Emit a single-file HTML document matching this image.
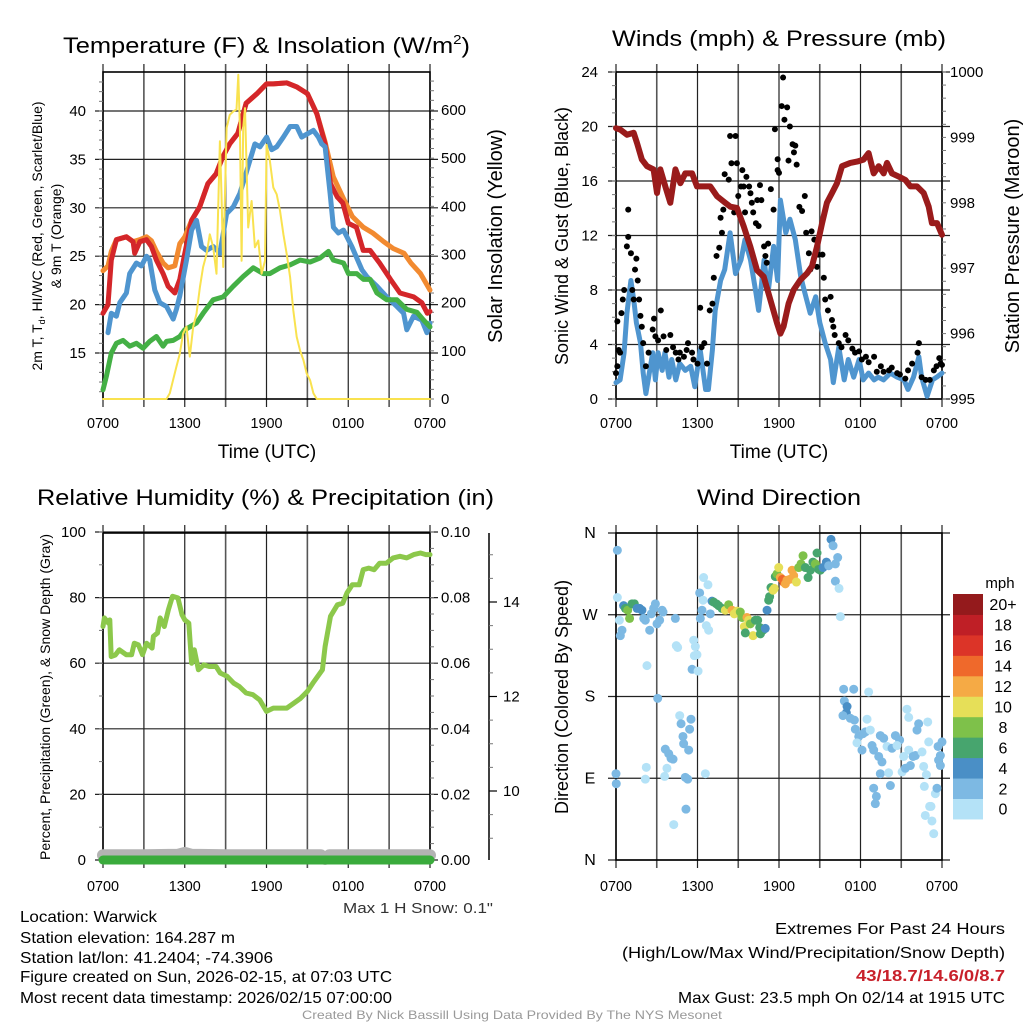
<!DOCTYPE html>
<html><head><meta charset="utf-8"><title>Mesonet Station Plot</title>
<style>
html,body{margin:0;padding:0;background:#fff;}
svg{display:block;font-family:"Liberation Sans",sans-serif;}
</style></head>
<body>
<svg id="chart" width="1024" height="1024" viewBox="0 0 1024 1024" xmlns="http://www.w3.org/2000/svg">
<rect x="0" y="0" width="1024" height="1024" fill="#fff"/>
<text x="63" y="53" font-size="22" textLength="407" lengthAdjust="spacingAndGlyphs">Temperature (F) &amp; Insolation (W/m<tspan font-size="13" dy="-9">2</tspan><tspan dy="9">)</tspan></text>
<text x="612" y="46" font-size="22" textLength="334" lengthAdjust="spacingAndGlyphs">Winds (mph) &amp; Pressure (mb)</text>
<text x="37" y="505" font-size="22" textLength="457" lengthAdjust="spacingAndGlyphs">Relative Humidity (%) &amp; Precipitation (in)</text>
<text x="697" y="505" font-size="22" textLength="164" lengthAdjust="spacingAndGlyphs">Wind Direction</text>
<text x="267" y="458" font-size="19" text-anchor="middle">Time (UTC)</text>
<text x="779" y="458" font-size="19" text-anchor="middle">Time (UTC)</text>
<text transform="translate(42,236) rotate(-90)" font-size="14" text-anchor="middle">2m T, T<tspan font-size="9" dy="3">d</tspan><tspan dy="-3">, HI/WC (Red, Green, Scarlet/Blue)</tspan></text>
<text transform="translate(61,236) rotate(-90)" font-size="14" text-anchor="middle">&amp; 9m T (Orange)</text>
<text transform="translate(502,236) rotate(-90)" font-size="20" text-anchor="middle">Solar Insolation (Yellow)</text>
<text transform="translate(568,236) rotate(-90)" font-size="18" text-anchor="middle">Sonic Wind &amp; Gust (Blue, Black)</text>
<text transform="translate(1019,236) rotate(-90)" font-size="20" text-anchor="middle">Station Pressure (Maroon)</text>
<text transform="translate(50,697) rotate(-90)" font-size="14" text-anchor="middle">Percent, Precipitation (Green), &amp; Snow Depth (Gray)</text>
<text transform="translate(568,697) rotate(-90)" font-size="18" text-anchor="middle">Direction (Colored By Speed)</text>
<text x="1000" y="588" font-size="15" text-anchor="middle">mph</text>
<g font-size="16">
<text x="20" y="922" textLength="137" lengthAdjust="spacingAndGlyphs">Location: Warwick</text>
<text x="20" y="943" textLength="215" lengthAdjust="spacingAndGlyphs">Station elevation: 164.287 m</text>
<text x="20" y="963" textLength="253" lengthAdjust="spacingAndGlyphs">Station lat/lon: 41.2404; -74.3906</text>
<text x="20" y="982" textLength="372" lengthAdjust="spacingAndGlyphs">Figure created on Sun, 2026-02-15, at 07:03 UTC</text>
<text x="20" y="1003" textLength="372" lengthAdjust="spacingAndGlyphs">Most recent data timestamp: 2026/02/15 07:00:00</text>
</g>
<text x="343" y="913" font-size="15" fill="#333" textLength="150" lengthAdjust="spacingAndGlyphs">Max 1 H Snow: 0.1"</text>
<g font-size="16">
<text x="775" y="934" textLength="230" lengthAdjust="spacingAndGlyphs">Extremes For Past 24 Hours</text>
<text x="622" y="958" textLength="383" lengthAdjust="spacingAndGlyphs">(High/Low/Max Wind/Precipitation/Snow Depth)</text>
<text x="856" y="981" font-weight="bold" fill="#c8202a" textLength="149" lengthAdjust="spacingAndGlyphs">43/18.7/14.6/0/8.7</text>
<text x="678" y="1003" textLength="327" lengthAdjust="spacingAndGlyphs">Max Gust: 23.5 mph On 02/14 at 1915 UTC</text>
</g>
<text x="302" y="1019" font-size="12" fill="#999" textLength="420" lengthAdjust="spacingAndGlyphs">Created By Nick Bassill Using Data Provided By The NYS Mesonet</text>
</svg>
<script>
const timeTicks=[0,6,12,18,24];
const timeTickLabels=['0700','1300','1900','0100','0700'];
const gridHours=[0,3,6,9,12,15,18,21,24];

const redHours=[0,0.37,0.61,0.98,1.72,2.21,2.33,2.7,3.19,3.55,3.92,4.41,4.78,5.27,5.64,6.0,6.5,7.1,7.7,8.3,8.8,9.3,9.9,10.5,11.3,12.0,12.5,13.5,14.2,15.0,15.7,16.3,16.7,17.2,17.6,18.0,18.6,19.1,19.6,20.3,21.1,21.8,22.8,23.4,23.8,24];
const redTemp=[19.1,20.0,24.6,26.7,27.0,26.5,25.3,26.5,26.7,26.0,24.6,23.2,21.9,21.2,22.6,25.3,28.7,30.1,32.5,33.5,35.3,36.6,37.7,40.8,41.8,42.8,42.8,42.9,42.5,41.8,39.7,36.6,32.5,31.1,30.5,28.4,28.0,25.6,25.6,24.3,22.6,21.2,20.8,20.2,19.1,19.3];

const orangeHours=[0,0.37,0.61,0.98,1.72,2.21,2.7,3.19,3.55,3.92,4.41,4.78,5.27,5.64,6.0,6.5,7.1,7.7,8.3,8.8,9.3,9.9,10.5,11.3,12.0,12.5,13.5,14.2,15.0,15.7,16.3,16.9,17.6,18.3,19.1,19.8,20.6,21.3,22.1,22.6,23.3,24];
const orangeTemp=[23.5,24.0,25.5,26.7,27.0,26.5,26.7,27.0,26.6,25.5,24.3,23.8,24.0,26.3,27.0,28.7,30.1,32.5,33.5,35.3,36.6,37.7,40.8,41.8,42.8,42.8,42.9,42.5,41.8,39.7,36.8,33.2,31.1,29.1,28.0,27.4,26.5,25.8,25.3,24.3,23.2,21.5];

const blueHours=[0.37,0.61,0.98,1.23,1.72,1.96,2.45,2.82,3.19,3.43,3.8,4.17,4.66,5.15,5.39,5.64,6.13,6.5,6.86,7.23,7.6,8.09,8.58,9.07,9.56,10.05,10.42,10.78,11.15,11.52,12.01,12.38,12.75,13.24,13.73,14.22,14.58,15.07,15.44,15.81,16.05,16.3,16.67,16.91,17.28,17.65,18.26,19.0,19.36,20.1,20.83,21.57,22.06,22.3,22.79,23.4,23.77,24];
const blueTemp=[17.1,19.1,18.8,20.2,21.2,23.2,24.3,24.0,25.0,24.6,21.5,20.2,19.8,18.5,19.5,20.9,24.6,27.7,28.7,26.0,25.6,26.0,25.3,29.4,30.1,31.5,33.2,34.9,36.6,36.3,37.3,36.0,36.3,37.3,38.4,38.4,37.3,37.7,38.0,37.3,36.6,36.3,31.5,28.0,27.4,27.7,26.0,23.6,22.9,21.9,20.8,19.8,19.1,17.4,18.8,18.4,17.1,18.1];

const dewHours=[0,0.25,0.61,0.98,1.47,1.96,2.45,2.94,3.43,3.92,4.41,4.66,5.15,5.64,6.0,6.37,6.86,7.35,8.09,8.82,9.56,10.29,11.03,11.76,12.25,12.99,13.73,14.46,15.2,15.93,16.54,16.91,17.65,18.01,18.63,19.12,19.61,20.1,20.83,21.57,22.3,23.04,23.53,24];
const dewTemp=[11.2,12.6,15,16,16.3,15.7,16,15.5,16.2,16.7,15.7,16.2,16.3,16.7,17.4,17.7,18.1,19.1,20.5,20.8,21.9,22.9,23.8,23.2,23.2,23.8,24.1,24.6,24.4,24.8,25.5,24.6,24.3,23.2,23.2,22.6,22.6,21.2,20.5,20.5,19.5,19.2,18.4,17.7];

const solarHours=[0,4.66,4.9,5.39,5.64,5.88,6.13,6.37,6.62,6.86,7.11,7.35,7.6,7.84,8.09,8.33,8.58,8.7,8.82,9.07,9.31,9.56,9.8,9.93,10.05,10.17,10.29,10.42,10.66,10.91,11.15,11.4,11.64,11.89,12.01,12.25,12.5,12.75,12.99,13.24,13.48,13.73,13.97,14.22,14.46,14.71,14.95,15.2,15.44,15.69,24];
const solarWm2=[0,0,12,67,94,136,150,88,150,177,232,274,301,342,315,260,535,425,274,563,590,597,601,673,563,287,563,604,356,411,315,329,260,287,528,494,439,425,391,342,301,253,184,129,101,81,53,39,12,0,0];

const p1LeftTicks=[15,20,25,30,35,40];
const p1RightTicks=[0,100,200,300,400,500,600];

const presHours=[0,0.32,0.81,1.3,1.55,1.91,2.28,2.77,3.02,3.26,3.63,4.0,4.37,4.74,5.1,5.6,5.96,6.45,6.94,7.44,8.05,8.42,8.91,9.4,9.89,10.38,10.87,11.36,11.85,12.1,12.34,12.71,13.08,13.57,14.06,14.43,14.8,15.17,15.53,15.9,16.27,16.64,17.25,17.74,18.23,18.6,18.97,19.34,19.71,19.95,20.32,20.81,21.3,21.67,22.16,22.65,23.02,23.26,23.63,24];
const presMb=[999.14,999.12,999.04,999.07,998.91,998.66,998.56,998.51,998.15,998.51,998.25,998.0,998.51,998.3,998.45,998.45,998.25,998.25,998.25,998.1,998.0,997.94,997.92,997.64,997.33,996.97,996.87,996.52,996.16,996.0,996.11,996.46,996.67,996.82,996.92,997.03,997.33,997.69,998.0,998.15,998.3,998.56,998.61,998.63,998.66,998.76,998.45,998.56,998.45,998.61,998.45,998.4,998.35,998.25,998.25,998.15,997.94,997.69,997.69,997.51];

const windHours=[0,0.3,0.6,0.8,1.1,1.3,1.5,1.8,2.0,2.2,2.4,2.7,2.9,3.1,3.4,3.6,3.9,4.1,4.4,4.7,5.1,5.5,5.8,6.2,6.6,6.8,7.1,7.3,7.7,8.0,8.4,8.8,9.2,9.5,9.9,10.3,10.5,10.9,11.2,11.6,11.9,12.1,12.5,12.8,13.2,13.6,13.9,14.3,14.7,15.0,15.4,15.8,16.0,16.4,16.8,17.1,17.5,17.9,18.2,18.6,19.0,19.3,19.7,20.2,20.7,21.2,21.5,21.9,22.3,22.5,22.9,23.3,23.6,24];
const windMph=[1.2,1.4,3.4,6.3,8.7,7.3,5.6,4.1,1.9,0.4,1.6,3.4,1.4,3.4,2.1,3.4,1.6,2.9,1.4,2.6,2.1,2.4,0.9,3.6,0.7,0.7,3.6,6.5,8.7,9.5,12.2,9.2,10.2,11.7,10.2,7.8,6.5,10.2,7.8,11.2,8.7,14.6,12.2,13.2,11.7,9.0,7.8,6.3,7.5,5.6,4.1,2.9,1.2,3.8,1.4,2.9,1.6,2.9,1.4,1.9,1.4,1.6,1.4,1.9,1.6,1.4,0.7,1.6,3.1,1.6,0.2,1.4,1.6,1.9];

const gustHours=[0,0.1,0.1,0.2,0.3,0.4,0.5,0.6,0.8,0.9,0.9,1.1,1.2,1.3,1.4,1.5,1.6,1.7,1.8,1.9,2.0,2.2,2.4,2.7,2.8,2.9,3.1,3.3,3.5,3.7,4.0,4.2,4.4,4.6,4.7,5.0,5.2,5.3,5.6,5.7,6.0,6.2,6.3,6.5,6.7,6.9,7.1,7.2,7.4,7.6,7.7,7.8,7.9,8.0,8.3,8.4,8.8,8.5,8.7,8.9,9.0,9.2,9.3,9.4,9.5,9.6,9.8,9.9,10.0,10.1,10.3,10.4,10.5,10.6,10.7,10.9,11.0,11.1,11.2,11.4,11.6,11.7,11.9,11.9,12.0,12.2,12.3,12.4,12.6,12.7,12.8,13.0,13.1,13.2,13.3,13.5,13.7,13.9,14.0,14.2,14.3,14.4,14.6,14.7,14.8,14.9,15.2,15.3,15.4,15.6,15.8,15.9,16.0,16.1,16.4,16.6,16.9,17.1,17.4,17.6,17.9,18.1,18.4,18.6,19.0,19.2,19.5,19.7,20.1,20.3,20.7,20.9,21.3,21.5,21.8,22.2,22.3,22.5,22.8,23.1,23.4,23.6,23.8,23.9,24.0];
const gustMph=[1.9,2.4,5.7,3.6,3.4,6.3,7.3,8.0,11.2,11.9,13.9,10.7,8.0,7.3,9.5,10.3,8.7,7.3,6.1,5.3,4.1,2.4,3.4,5.1,5.9,4.6,4.3,6.5,4.6,3.6,4.7,3.8,3.4,2.9,3.4,3.1,3.6,4.1,3.4,2.9,2.6,6.7,3.8,4.1,2.6,6.5,7.0,8.9,10.5,11.1,13.3,12.2,13.9,16.5,16.1,19.3,19.3,17.3,13.7,17.3,14.9,15.6,16.8,15.6,13.7,16.3,15.6,15.1,14.4,13.7,12.9,14.6,12.7,15.7,14.6,11.2,10.5,10.0,11.4,15.4,13.9,19.8,17.6,16.8,16.6,21.5,23.6,20.5,21.4,17.5,20.0,18.7,18.1,18.6,17.2,14.1,13.8,14.9,12.2,10.7,9.5,12.3,11.7,10.7,9.7,10.6,10.6,8.9,7.3,6.5,7.5,5.8,5.3,4.7,4.1,3.8,4.7,4.3,3.7,3.4,3.5,2.9,3.1,2.7,3.1,2.0,2.4,2.0,2.1,2.3,1.9,1.8,1.5,2.1,2.6,3.4,4.1,1.6,1.4,1.4,2.1,2.4,3.0,2.6,2.5];

const p2LeftTicks=[0,4,8,12,16,20,24];
const p2RightTicks=[995,996,997,998,999,1000];

const rhHours=[0,0.1,0.4,0.5,0.6,0.9,1.2,1.7,2.1,2.3,2.6,2.9,3.2,3.6,3.7,4.0,4.2,4.5,4.8,5.1,5.5,5.8,6.0,6.3,6.5,6.7,7.0,7.4,7.8,8.3,8.6,9.1,9.6,10.0,10.5,11.0,11.5,12.0,12.5,13.0,13.5,14.0,14.5,15.0,15.4,16.1,16.3,16.7,17.2,17.6,17.9,18.3,18.8,19.1,19.5,19.9,20.3,20.8,21.3,21.8,22.3,22.8,23.3,23.7,24];
const rhPct=[71.2,73.8,72.2,73.2,62,62.5,64.1,62.6,62.6,66.1,65.6,62.6,66.1,64.6,68.2,69.2,73.8,71.2,76.3,80.4,79.9,74.8,73.2,72.2,60,64.1,58,59.5,59,59,57,56,53.9,52.9,50.9,50.4,48.8,45.3,46.3,46.3,46.3,47.8,49.3,51.4,53.9,58,65.1,74.3,77.8,78.3,81.4,83.9,83.9,88.5,89,88.5,90.5,90.5,92.1,92.6,92.1,93.1,93.6,93.1,93.1];
const precipHours=[0,24];
const precipIn=[0,0];
const snowHours=[0,3,5.5,6.0,6.5,9,12,15,16.0,16.3,16.6,20,24];
const snowDepth=[8.64,8.64,8.65,8.69,8.65,8.64,8.64,8.64,8.64,8.56,8.64,8.64,8.64];
const p3LeftTicks=[0,20,40,60,80,100];
const p3RightTicks=[0,0.02,0.04,0.06,0.08,0.10];
const snowTicks=[10,12,14];

const dirHours=[0.1,0.1,0.25,0.32,0.44,0.56,0.69,0.86,1.0,1.18,1.35,1.55,1.74,1.91,2.04,2.16,2.28,2.48,2.6,2.77,2.9,3.02,3.21,3.39,3.46,4.37,4.44,4.54,0,0.02,2.23,2.16,3.07,3.63,3.88,4.05,4.2,3.75,3.58,4.69,4.79,4.93,4.98,5.1,5.28,5.35,5.42,5.52,5.15,4.25,6.58,5.6,5.72,5.84,5.77,5.96,6.04,6.16,6.45,6.41,6.77,6.33,6.21,6.65,6.82,6.94,7.07,7.19,7.39,7.56,7.8,8.05,8.29,8.54,8.71,8.91,9.15,9.28,9.45,9.64,9.77,9.89,10.09,10.26,10.43,10.58,10.63,10.82,10.99,9.52,11.12,11.24,11.31,11.41,11.56,11.66,11.73,11.85,11.98,12.1,12.25,12.34,12.47,12.59,12.79,12.96,13.08,13.28,13.45,13.62,13.77,13.94,14.14,14.31,14.5,14.68,14.8,14.92,15.04,15.24,15.49,15.66,15.83,15.98,16.15,16.32,16.15,16.42,16.52,16.76,17.5,18.6,16.81,17.01,16.96,16.71,17.25,17.55,17.62,17.87,18.18,18.36,18.11,17.74,18.48,18.72,18.85,18.97,19.34,19.58,19.46,18.97,19.17,19.09,20.07,20.2,19.46,19.71,19.95,20.32,20.57,20.88,20.69,21.18,21.06,21.3,21.55,21.67,21.87,22.04,22.16,22.28,21.42,21.55,22.53,22.65,22.95,23.02,22.85,22.7,23.09,23.19,22.77,23.26,23.39,23.51,23.63,23.75,23.88,23.88,24.0,23.71];
const dirDeg=[341,289,264,247,253,280,277,275,266,282,282,277,277,275,266,264,214,253,271,277,282,260,264,275,273,266,236,234,95,84,102,89,178,122,117,112,111,101,92,159,150,136,128,91,89,121,144,155,56,39,95,210,242,235,225,226,208,294,311,286,303,275,266,258,253,271,285,284,282,280,277,275,281,275,271,274,273,267,257,267,264,260,247,264,264,256,249,253,255,250,275,286,290,300,297,299,312,315,322,311,309,306,304,308,309,319,313,306,322,326,335,322,311,319,328,326,338,320,319,322,328,324,353,346,326,333,307,299,268,188,188,185,175,169,162,159,156,154,144,136,139,141,121,129,155,143,126,121,114,108,95,79,70,62,96,82,137,134,125,123,137,132,126,114,97,101,121,104,114,115,143,150,166,157,119,103,152,130,94,81,59,59,49,43,29,73,79,110,104,115,130,125];
const dirMph=[3,1,1,3,3,4,7,8,8,6,6,5,4,4,3,2,1,3,3,3,3,3,3,2,3,3,1,1,2,2,1,1,3,2,2,2,2,1,1,1,2,2,2,2,2,2,2,3,3,1,1,3,1,1,1,1,1,3,1,1,1,2,2,1,1,2,4,6,6,7,6,10,9,12,10,10,8,9,10,12,10,9,10,6,6,7,6,6,5,7,5,6,7,7,10,11,7,9,10,13,15,14,13,12,13,12,13,10,8,8,8,7,7,6,7,8,6,6,6,5,4,3,4,3,2,2,3,1,1,3,3,1,3,4,4,2,3,2,2,3,2,2,2,1,1,1,2,2,2,2,2,3,3,3,1,3,3,2,1,2,2,2,1,1,1,2,1,2,2,2,2,2,1,1,1,1,1,1,1,1,1,1,1,1,1,1,3,3,3,3,3,3];
const dirTickLabels=['N','E','S','W','N'];
const dirTickDeg=[0,90,180,270,360];
const speedBinLabels=['0','2','4','6','8','10','12','14','16','18','20+'];
const speedBinColors=['#b4e2f7','#7db9e3','#4a8fc6','#47a56e','#7ec14a','#e6df58','#f5aa45','#ef692b','#dc3428','#bf1f26','#941a1c'];

const NS='http://www.w3.org/2000/svg';
const svg=document.getElementById('chart');
function mk(tag,attrs,parent){const e=document.createElementNS(NS,tag);for(const k in attrs)e.setAttribute(k,attrs[k]);(parent||svg).appendChild(e);return e;}
function pathD(hs,vs,xf,yf){let d='';for(let i=0;i<hs.length;i++){d+=(i?'L':'M')+xf(hs[i]).toFixed(1)+','+yf(vs[i]).toFixed(1);}return d;}

const x1=h=>103+h*327/24, x2=h=>616+h*326/24;
const yT=v=>353-(v-15)*9.68, yS=w=>399-w*0.4817;
const yW=v=>399-v*13.625, yP=p=>399-(p-995)*65.4;
const yRH=v=>860-v*3.28, yPr=p=>860-p*3280, ySn=s=>791-(s-10)*47.25;
const yD=d=>860-d*0.9083;

function frame(xf,top,bot,left,right,name,hGridVals,yf){
  const g=mk('g',{});
  
  
  gridHours.forEach(h=>{
    const l=mk('line',{x1:xf(h),x2:xf(h),y1:top-8,y2:bot+8,stroke:(h%6===0?'#222':'#555'),'stroke-width':(h%6===0?1.2:1.6)},g);
    
    
  });
  hGridVals.forEach(v=>{
    const l=mk('line',{x1:left-8,x2:right+8,y1:yf(v),y2:yf(v),stroke:'#222','stroke-width':1.2},g);
    
    
  });
  const r=mk('rect',{x:left,y:top,width:right-left,height:bot-top,fill:'none',stroke:'#000','stroke-width':1.6},g);
  
  
  return g;
}
function minorTicks(xpos,from,to,step,yf,dir,name){
  for(let v=from;v<=to+1e-9;v+=step){
    const y=yf(v);
    const t=mk('line',{x1:xpos,x2:xpos+dir*4,y1:y,y2:y,stroke:'#777','stroke-width':1});
    
    
  }
}
function tickLabels(vals,labels,xpos,yf,anchor,name,size){
  vals.forEach((v,i)=>{
    const t=mk('text',{x:xpos,y:yf(v)+5,'font-size':size||15,'text-anchor':anchor});
    t.textContent=labels?labels[i]:String(v);
    
    
  });
}
function timeLabels(xf,y,name){
  timeTicks.forEach((h,i)=>{
    const t=mk('text',{x:xf(h)-16,y:y,'font-size':15,textLength:32,lengthAdjust:'spacingAndGlyphs'});
    t.textContent=timeTickLabels[i];
    
    
  });
}
function series(hs,vs,xf,yf,color,w,name){
  const p=mk('path',{d:pathD(hs,vs,xf,yf),fill:'none',stroke:color,'stroke-width':w,'stroke-linejoin':'round','stroke-linecap':'round'});
  
  
  return p;
}

frame(x1,72,399,103,430,'temperature',p1LeftTicks,yT);
minorTicks(103,11,43,1,yT,-1,'p1-left');
minorTicks(430,0,660,20,yS,1,'p1-right');
tickLabels(p1LeftTicks,null,86,yT,'end','p1-left');
tickLabels(p1RightTicks,null,441,yS,'start','p1-right');
timeLabels(x1,428,'p1');
series(orangeHours,orangeTemp,x1,yT,'#f28a30',5,'nine-meter-temp-line');
series(redHours,redTemp,x1,yT,'#d4262a',5,'two-meter-temp-line');
series(blueHours,blueTemp,x1,yT,'#4f95cf',5,'wind-chill-line');
series(dewHours,dewTemp,x1,yT,'#44b045',5,'dewpoint-line');
series(solarHours,solarWm2,x1,yS,'#f9e24f',2,'solar-insolation-line');

frame(x2,72,399,616,942,'winds',p2LeftTicks,yW);
minorTicks(616,0,24,1,yW,-1,'p2-left');
minorTicks(942,995,1000,0.2,yP,1,'p2-right');
tickLabels(p2LeftTicks,null,598,yW,'end','p2-left');
tickLabels(p2RightTicks,null,950,yP,'start','p2-right');
timeLabels(x2,428,'p2');
series(windHours,windMph,x2,yW,'#4f95cf',5,'sonic-wind-line');
gustHours.forEach((h,i)=>{
  const c=mk('circle',{cx:x2(h),cy:yW(gustMph[i]),r:3,fill:'#000'});
  
  
});
series(presHours,presMb,x2,yP,'#9a1b1b',6,'station-pressure-line');

frame(x1,533,860,103,430,'humidity',p3LeftTicks,yRH);
minorTicks(103,0,100,10,yRH,-1,'p3-left');
minorTicks(430,0,0.1,0.005,yPr,1,'p3-right');
tickLabels(p3LeftTicks,null,86,yRH,'end','p3-left');
tickLabels(p3RightTicks,p3RightTicks.map(v=>v.toFixed(2)),441,yPr,'start','p3-right');
const sAx=mk('line',{x1:489,x2:489,y1:533,y2:860,stroke:'#000','stroke-width':1.5});


minorTicks(489,9.0,15.4,0.5,ySn,1,'snow-axis');
snowTicks.forEach(v=>{
  const t=mk('line',{x1:489,x2:497,y1:ySn(v),y2:ySn(v),stroke:'#000','stroke-width':1.2});
  
  
});
tickLabels(snowTicks,null,503,ySn,'start','snow-axis');
timeLabels(x1,891,'p3');
series(rhHours,rhPct,x1,yRH,'#8cc84b',5,'relative-humidity-line');
series(snowHours,snowDepth,x1,ySn,'#b3b3b3',12,'snow-depth-line');
series(precipHours,precipIn,x1,yPr,'#3aab3c',9,'precipitation-line');

frame(x2,533,860,616,942,'wind-direction',dirTickDeg,yD);
tickLabels(dirTickDeg,dirTickLabels,590,yD,'middle','p4-left',16);
timeLabels(x2,891,'p4');
function binColor(s){let b=Math.floor(s/2);if(b>10)b=10;return speedBinColors[b];}
dirHours.forEach((h,i)=>{
  const c=mk('circle',{cx:x2(h),cy:yD(dirDeg[i]),r:4.5,fill:binColor(dirMph[i])});
  
  
});
const cbTop=594,cbH=20.45;
speedBinColors.forEach((col,i)=>{
  const k=10-i;
  const r=mk('rect',{x:953,y:cbTop+k*cbH,width:30,height:cbH+0.5,fill:col});
  
  
  const t=mk('text',{x:1003,y:cbTop+k*cbH+cbH/2+6,'font-size':16,'text-anchor':'middle'});
  t.textContent=speedBinLabels[i];
  
  
});
</script>
</body></html>
